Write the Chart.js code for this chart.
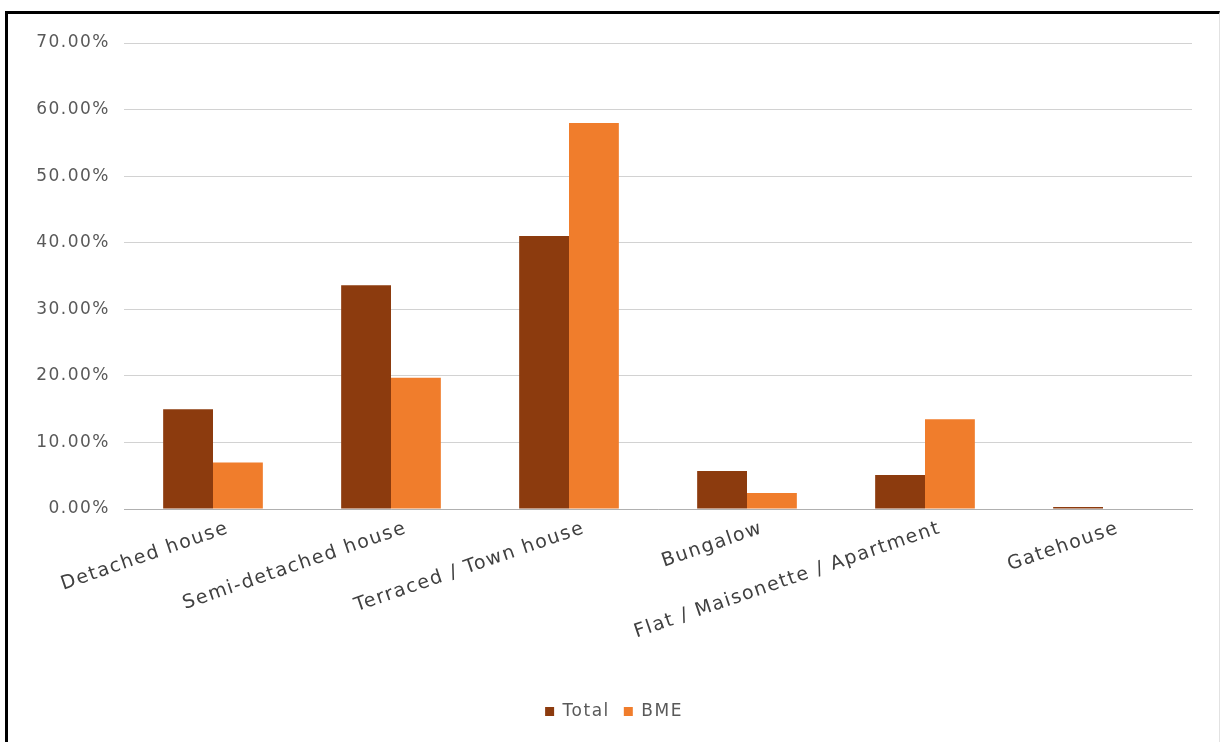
<!DOCTYPE html>
<html>
<head>
<meta charset="utf-8">
<title>House type: Total vs BME</title>
<script src="https://cdn.jsdelivr.net/npm/chart.js@4/dist/chart.umd.min.js"></script>
<style>
  html, body { margin: 0; padding: 0; background: #fff; }
  #frame {
    position: absolute;
    left: 5px;
    top: 11px;
    width: 1215px;
    height: 740px;
    border-left: 3px solid #000;
    border-top: 3px solid #000;
    border-right: 1px solid #e2e2e2;
    box-sizing: border-box;
  }
  #wrap { position: absolute; left: 0; top: 0; width: 1211px; height: 728px; }
</style>
</head>
<body>
<div id="frame">
  <div id="wrap"><canvas id="houseChart"></canvas></div>
</div>
<script>
// 房屋类型占比数据
const categories = [
  "Detached house",
  "Semi-detached house",
  "Terraced / Town house",
  "Bungalow",
  "Flat / Maisonette / Apartment",
  "Gatehouse",
];
const totalValues = [15.0, 33.6, 41.0, 5.7, 5.1, 0.3];
const bmeValues = [7.0, 19.7, 58.0, 2.4, 13.5, 0.0];
const yTicks = [0, 10, 20, 30, 40, 50, 60, 70];

const fontFamily = "'DejaVu Sans', sans-serif";

// 字距放宽一点，让文字更接近原图的宽字体
const spacingPlugin = {
  id: "letterSpacing",
  beforeUpdate(chart) {
    chart.ctx.letterSpacing = "1.5px";
  },
  beforeDraw(chart) {
    chart.ctx.letterSpacing = "1.5px";
  },
  // 图例按整张画布居中，而不是按绘图区
  afterLayout(chart) {
    const shift = 14;
    chart.legend.left += shift;
    chart.legend.right += shift;
  },
};

const ctx = document.getElementById("houseChart").getContext("2d");
new Chart(ctx, {
  type: "bar",
  data: {
    labels: categories,
    datasets: [
      {
        label: "Total",
        data: totalValues,
        backgroundColor: "#8c3b0e",
        borderWidth: 0,
      },
      {
        label: "BME",
        data: bmeValues,
        backgroundColor: "#f07d2c",
        borderWidth: 0,
      },
    ],
  },
  plugins: [spacingPlugin],
  options: {
    responsive: true,
    maintainAspectRatio: false,
    animation: false,
    layout: {
      padding: { top: 29, right: 27, bottom: 12, left: 0 },
    },
    datasets: {
      bar: {
        categoryPercentage: 0.56,
        barPercentage: 1.0,
      },
    },
    plugins: {
      tooltip: { enabled: false },
      legend: {
        position: "bottom",
        labels: {
          boxWidth: 9,
          boxHeight: 9,
          padding: 14,
          color: "#595959",
          font: { family: fontFamily, size: 17 },
        },
      },
    },
    scales: {
      x: {
        grid: { display: false },
        border: { color: "#b0b0b0" },
        afterFit: (scale) => {
          scale.height = 180;
        },
        ticks: {
          minRotation: 19,
          maxRotation: 19,
          autoSkip: false,
          color: "#404040",
          padding: 0,
          labelOffset: 15,
          font: { family: fontFamily, size: 19 },
        },
      },
      y: {
        min: 0,
        max: 70,
        afterBuildTicks: (scale) => {
          scale.ticks = yTicks.map((v) => ({ value: v }));
        },
        afterFit: (scale) => {
          scale.width = 116;
        },
        grid: { color: "#d2d2d2", lineWidth: 1, drawTicks: false },
        border: { display: false },
        ticks: {
          color: "#595959",
          padding: 14,
          font: { family: fontFamily, size: 17 },
          callback: (v) => v.toFixed(2) + "%",
        },
      },
    },
  },
});
</script>
</body>
</html>
